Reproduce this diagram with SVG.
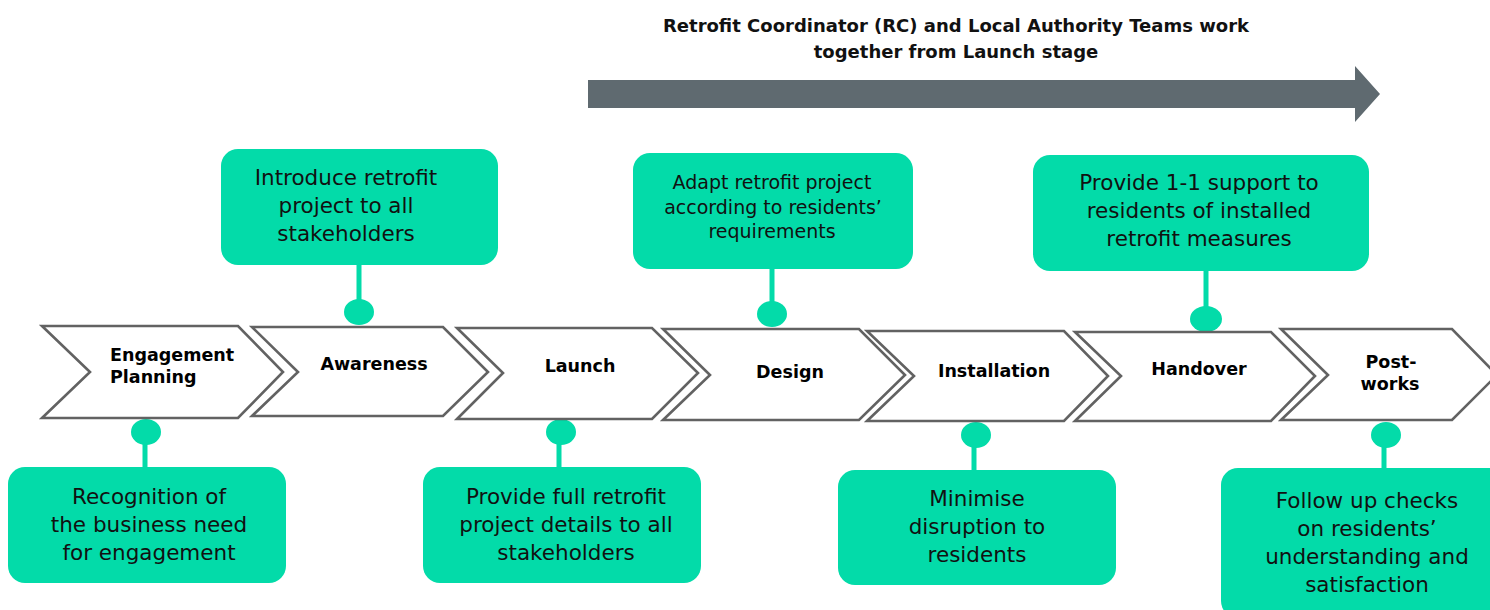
<svg xmlns="http://www.w3.org/2000/svg" width="1490" height="610" viewBox="0 0 1490 610">
<style>
.chev{fill:#ffffff;stroke:#626262;stroke-width:2.6;stroke-linejoin:miter}
.lbl{font-family:"DejaVu Sans","Liberation Sans",sans-serif;font-weight:bold;font-size:17.5px;fill:#000}
.box{fill:#03dba9}
.txt{font-family:"DejaVu Sans","Liberation Sans",sans-serif;font-size:21.5px;fill:#111;text-anchor:middle}
.txts{font-family:"DejaVu Sans","Liberation Sans",sans-serif;font-size:19px;fill:#111;text-anchor:middle}
.stem{stroke:#03dba9;stroke-width:5;fill:none}
.dot{fill:#03dba9}
.title{font-family:"DejaVu Sans","Liberation Sans",sans-serif;font-weight:bold;font-size:18px;fill:#111;text-anchor:middle}
</style>
<rect width="1490" height="610" fill="#ffffff"/>

<g id="header">
<text class="title" x="956" y="32">Retrofit Coordinator (RC) and Local Authority Teams work</text>
<text class="title" x="956" y="58">together from Launch stage</text>
<polygon points="588,80 1355,80 1355,66 1380,94 1355,122 1355,108 588,108" fill="#5f6a70"/>
</g>

<g id="connectors">
<line class="stem" x1="359" y1="262" x2="359" y2="312"/>
<ellipse class="dot" cx="359" cy="312" rx="15" ry="13"/>
<line class="stem" x1="772" y1="266" x2="772" y2="314"/>
<ellipse class="dot" cx="772" cy="314" rx="15" ry="13"/>
<line class="stem" x1="1206" y1="268" x2="1206" y2="319"/>
<ellipse class="dot" cx="1206" cy="319" rx="16" ry="13"/>
<line class="stem" x1="145" y1="432" x2="145" y2="470"/>
<ellipse class="dot" cx="146" cy="432" rx="15" ry="13"/>
<line class="stem" x1="559" y1="432" x2="559" y2="470"/>
<ellipse class="dot" cx="561" cy="432" rx="15" ry="13"/>
<line class="stem" x1="974" y1="435" x2="974" y2="473"/>
<ellipse class="dot" cx="976" cy="435" rx="15" ry="13"/>
<line class="stem" x1="1384" y1="435" x2="1384" y2="471"/>
<ellipse class="dot" cx="1386" cy="435" rx="15" ry="13"/>
</g>

<g id="stage-engagement-planning">
<polygon class="chev" points="42,326 238,326 283,372 238,418 42,418 90,372"/>
<text class="lbl" x="110" y="361">Engagement</text>
<text class="lbl" x="110" y="383">Planning</text>
</g>
<g id="stage-awareness">
<polygon class="chev" points="252,327 443,327 488,372 443,416 252,416 298,372"/>
<text class="lbl" x="374" y="370" text-anchor="middle">Awareness</text>
</g>
<g id="stage-launch">
<polygon class="chev" points="457,328 652,328 698,373 652,419 457,419 503,373"/>
<text class="lbl" x="580" y="372" text-anchor="middle">Launch</text>
</g>
<g id="stage-design">
<polygon class="chev" points="663,329 859,329 905,375 859,420 663,420 710,375"/>
<text class="lbl" x="790" y="378" text-anchor="middle">Design</text>
</g>
<g id="stage-installation">
<polygon class="chev" points="867,331 1064,331 1108,376 1064,421 867,421 914,376"/>
<text class="lbl" x="994" y="377" text-anchor="middle">Installation</text>
</g>
<g id="stage-handover">
<polygon class="chev" points="1075,332 1271,332 1315,376 1271,421 1075,421 1121,376"/>
<text class="lbl" x="1199" y="375" text-anchor="middle">Handover</text>
</g>
<g id="stage-post-works">
<polygon class="chev" points="1281,329 1452,329 1497,375 1452,420 1281,420 1328,375"/>
<text class="lbl" x="1391" y="368" text-anchor="middle">Post-</text>
<text class="lbl" x="1390" y="390" text-anchor="middle">works</text>
</g>

<g id="note-introduce">
<rect class="box" x="221" y="149" width="277" height="116" rx="17"/>
<text class="txt" x="346" y="185">Introduce retrofit</text>
<text class="txt" x="346" y="213">project to all</text>
<text class="txt" x="346" y="241">stakeholders</text>
</g>
<g id="note-adapt">
<rect class="box" x="633" y="153" width="280" height="116" rx="17"/>
<text class="txts" x="772" y="189">Adapt retrofit project</text>
<text class="txts" x="773" y="214">according to residents’</text>
<text class="txts" x="772" y="238">requirements</text>
</g>
<g id="note-support">
<rect class="box" x="1033" y="155" width="336" height="116" rx="17"/>
<text class="txt" x="1199" y="190">Provide 1-1 support to</text>
<text class="txt" x="1199" y="218">residents of installed</text>
<text class="txt" x="1199" y="246">retrofit measures</text>
</g>
<g id="note-recognition">
<rect class="box" x="8" y="467" width="278" height="116" rx="17"/>
<text class="txt" x="149" y="504">Recognition of</text>
<text class="txt" x="149" y="532">the business need</text>
<text class="txt" x="149" y="560">for engagement</text>
</g>
<g id="note-provide-full">
<rect class="box" x="423" y="467" width="278" height="116" rx="17"/>
<text class="txt" x="566" y="504">Provide full retrofit</text>
<text class="txt" x="566" y="532">project details to all</text>
<text class="txt" x="566" y="560">stakeholders</text>
</g>
<g id="note-minimise">
<rect class="box" x="838" y="470" width="278" height="115" rx="17"/>
<text class="txt" x="977" y="506">Minimise</text>
<text class="txt" x="977" y="534">disruption to</text>
<text class="txt" x="977" y="562">residents</text>
</g>
<g id="note-follow-up">
<rect class="box" x="1221" y="468" width="290" height="150" rx="17"/>
<text class="txt" x="1367" y="508">Follow up checks</text>
<text class="txt" x="1367" y="536">on residents’</text>
<text class="txt" x="1367" y="564">understanding and</text>
<text class="txt" x="1367" y="592">satisfaction</text>
</g>
</svg>
